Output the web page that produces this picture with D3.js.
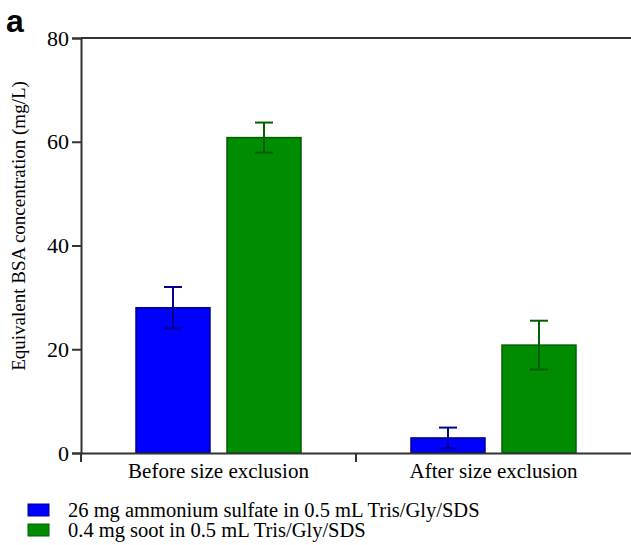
<!DOCTYPE html>
<html>
<meta charset="utf-8">
<head>
<title>BSA bars</title>
<script src="https://d3js.org/d3.v7.min.js"></script>
<style>
body { margin: 0; background: #fff; }
</style>
</head>
<body>
<div id="plot"></div>
<script>

var categories = ["Before size exclusion", "After size exclusion"];
var seriesNames = ["26 mg ammonium sulfate in 0.5 mL Tris/Gly/SDS", "0.4 mg soot in 0.5 mL Tris/Gly/SDS"];
var sulfateVals = [28.0, 2.9];
var sulfateErr = [4.0, 2.0];
var sootVals = [60.8, 20.8];
var sootErr = [2.9, 4.7];
var yTicks = [0, 20, 40, 60, 80];

var fills = ["#0000ff", "#008c00"];
var strokes = ["#00008b", "#005f00"];
var serif = "Liberation Serif, Times New Roman, serif";

var margin = { top: 38, right: 0, bottom: 92, left: 81 };
var width = 631 - margin.left - margin.right;
var height = 545 - margin.top - margin.bottom;

var data = [];
categories.forEach(function(c, i){
	data.push({cat: c, s: 0, v: sulfateVals[i], e: sulfateErr[i]});
	data.push({cat: c, s: 1, v: sootVals[i], e: sootErr[i]});
});

var groupW = 165;
var xScale = d3.scaleBand().domain(categories).range([0, width]);
var xInner = d3.scaleBand().domain([0, 1]).range([0, groupW]).paddingInner(0.187);
var yScale = d3.scaleLinear().domain([0, 80]).range([height, 0]);

function barX(d){ return xScale(d.cat) + (xScale.bandwidth() - groupW) / 2 + xInner(d.s); }

var svg = d3.select("#plot").append("svg")
	.attr("width", 631)
	.attr("height", 545);

var g = svg.append("g")
	.attr("transform", "translate(" + margin.left + "," + margin.top + ")");

// bars
g.selectAll(".bar")
	.data(data)
	.enter()
	.append("rect")
	.attr("class", "bar")
	.attr("x", barX)
	.attr("y", function(d){ return yScale(d.v); })
	.attr("width", xInner.bandwidth())
	.attr("height", function(d){ return height - yScale(d.v); })
	.attr("fill", function(d){ return fills[d.s]; })
	.attr("stroke", function(d){ return strokes[d.s]; })
	.attr("stroke-width", 1.5);

// error bars
var eb = g.selectAll(".err")
	.data(data)
	.enter()
	.append("g")
	.attr("class", "err")
	.attr("stroke", function(d){ return strokes[d.s]; })
	.attr("stroke-width", 2)
	.attr("transform", function(d){
		return "translate(" + (barX(d) + xInner.bandwidth() / 2) + ",0)";
	});
eb.append("line")
	.attr("y1", function(d){ return yScale(d.v + d.e); })
	.attr("y2", function(d){ return yScale(d.v - d.e); });
eb.append("line").attr("x1", -9).attr("x2", 9)
	.attr("y1", function(d){ return yScale(d.v + d.e); })
	.attr("y2", function(d){ return yScale(d.v + d.e); });
eb.append("line").attr("x1", -9).attr("x2", 9)
	.attr("y1", function(d){ return yScale(d.v - d.e); })
	.attr("y2", function(d){ return yScale(d.v - d.e); });

// frame top line
g.append("line")
	.attr("x1", 0).attr("x2", width)
	.attr("y1", 0).attr("y2", 0)
	.attr("stroke", "#333").attr("stroke-width", 2);

// y axis
var yAxis = d3.axisLeft(yScale).tickValues(yTicks).tickSize(9).tickPadding(3);
var ya = g.append("g").attr("class", "y axis").call(yAxis);
ya.select(".domain").attr("stroke", "#333").attr("stroke-width", 2);
ya.selectAll(".tick line").attr("stroke", "#333").attr("stroke-width", 2);
ya.selectAll("text")
	.attr("font-family", serif)
	.attr("font-size", 22).attr("fill", "#000");

// x axis
var xa = g.append("g").attr("class", "x axis")
	.attr("transform", "translate(0," + height + ")")
	.call(d3.axisBottom(xScale).tickSize(0).tickPadding(10));
xa.select(".domain").attr("stroke", "#333").attr("stroke-width", 2);
xa.selectAll("text")
	.attr("font-family", serif)
	.attr("font-size", 21).attr("fill", "#000");
xa.selectAll(".sep")
	.data([0, xScale.bandwidth()])
	.enter()
	.append("line")
	.attr("class", "sep")
	.attr("x1", function(d){ return d; }).attr("x2", function(d){ return d; })
	.attr("y1", 0).attr("y2", 9)
	.attr("stroke", "#333").attr("stroke-width", 2);

// y title
svg.append("text")
	.attr("transform", "translate(25,226) rotate(-90)")
	.attr("text-anchor", "middle")
	.attr("font-family", serif)
	.attr("font-size", 19)
	.text("Equivalent BSA concentration (mg/L)");

// panel letter
svg.append("text")
	.attr("x", 6).attr("y", 32)
	.attr("font-family", "Liberation Sans, Arial, sans-serif")
	.attr("font-weight", "bold")
	.attr("font-size", 32)
	.text("a");

// legend
var leg = svg.append("g").attr("transform", "translate(28,504)");
var li = leg.selectAll(".li")
	.data(seriesNames)
	.enter()
	.append("g")
	.attr("class", "li")
	.attr("transform", function(d, i){ return "translate(0," + (i * 20) + ")"; });
li.append("rect")
	.attr("width", 21).attr("height", 12)
	.attr("fill", function(d, i){ return fills[i]; })
	.attr("stroke", function(d, i){ return strokes[i]; })
	.attr("stroke-width", 1);
li.append("text")
	.attr("x", 40).attr("y", 13)
	.attr("font-family", serif)
	.attr("font-size", 20.5)
	.text(function(d){ return d; });

</script>
</body>
</html>
